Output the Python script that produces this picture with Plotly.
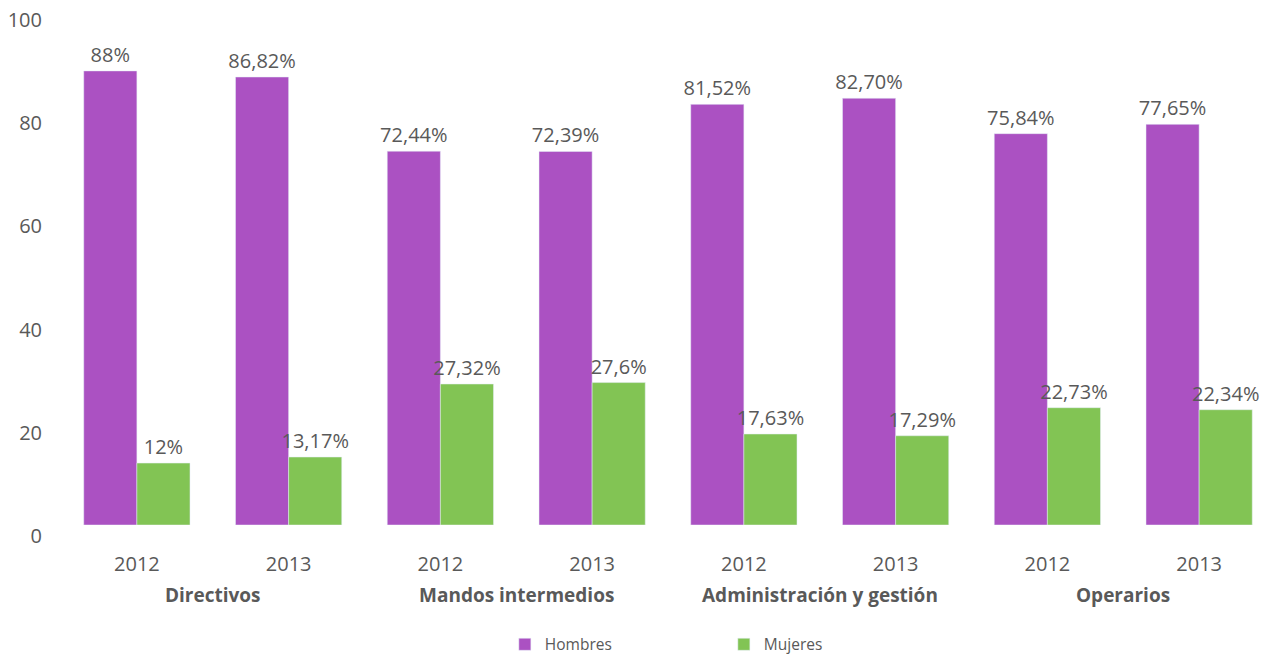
import plotly.graph_objects as go

categories = ["Directivos", "Directivos", "Mandos intermedios", "Mandos intermedios",
              "Administración y gestión", "Administración y gestión", "Operarios", "Operarios"]
years = ["2012", "2013"] * 4
hombres = [88, 86.82, 72.44, 72.39, 81.52, 82.70, 75.84, 77.65]
mujeres = [12, 13.17, 27.32, 27.6, 17.63, 17.29, 22.73, 22.34]
hombres_labels = ["88%", "86,82%", "72,44%", "72,39%", "81,52%", "82,70%", "75,84%", "77,65%"]
mujeres_labels = ["12%", "13,17%", "27,32%", "27,6%", "17,63%", "17,29%", "22,73%", "22,34%"]
group_names = ["Directivos", "Mandos intermedios", "Administración y gestión", "Operarios"]

ids = [c + " " + y for c, y in zip(categories, years)]
GRAY = "#595959"
FONT = "Open Sans"

fig = go.Figure()
fig.add_trace(go.Bar(name="Hombres", x=ids, y=hombres, marker_color="#AB51C2",
                     text=hombres_labels, textposition="outside", constraintext="none",
                     textfont=dict(size=20, color=GRAY, family=FONT), cliponaxis=False))
fig.add_trace(go.Bar(name="Mujeres", x=ids, y=mujeres, marker_color="#82C454",
                     text=mujeres_labels, textposition="outside", constraintext="none",
                     textfont=dict(size=20, color=GRAY, family=FONT), cliponaxis=False))

for i, g in enumerate(group_names):
    fig.add_annotation(x=2 * i + 0.5, xref="x", y=-70 / 516, yref="paper",
                       yanchor="middle", xanchor="center", showarrow=False,
                       text="<b>" + g + "</b>", font=dict(size=19, color=GRAY, family=FONT))

fig.update_layout(
    width=1274, height=647,
    margin=dict(l=53, r=7, t=1, b=130, autoexpand=False),
    barmode="group", bargap=0.3, bargroupgap=0,
    plot_bgcolor="white", paper_bgcolor="white",
    font=dict(family=FONT, size=20, color=GRAY),
    legend=dict(orientation="h", x=0.546, xanchor="center", y=-0.232, yanchor="middle",
                font=dict(size=15.5, color=GRAY), entrywidth=174, entrywidthmode="pixels"),
    xaxis=dict(type="category", tickvals=ids, ticktext=years, showgrid=False, showline=False,
               zeroline=False, ticks="", automargin=False, ticklabelstandoff=25,
               tickfont=dict(size=20, color=GRAY)),
    yaxis=dict(range=[0, 100], tickvals=[0, 20, 40, 60, 80, 100], showgrid=False,
               zeroline=False, showline=False, ticklabelshift=11, ticklabelstandoff=18,
               ticklabeloverflow="allow", automargin=False,
               tickfont=dict(size=20, color=GRAY)),
)

fig.write_html("out.html")
